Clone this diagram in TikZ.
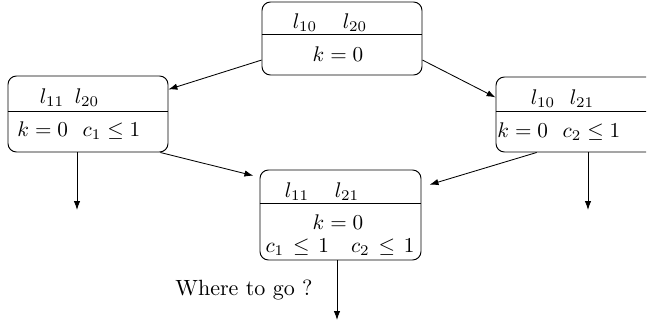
\documentclass[tikz,border=0pt]{standalone}
\usetikzlibrary{fit,arrows.meta}
\begin{document}
\begin{tikzpicture}[x=0.4717pt,y=-0.4717pt,
  box/.style={draw,rounded corners=4pt,inner sep=0pt,line width=0.45pt},
  lab/.style={inner sep=0pt,anchor=base,font=\fontsize{10.4pt}{12pt}\selectfont},
  conn/.style={-{Latex[length=4.2pt,width=3pt]},line width=0.4pt},
  divider/.style={line width=0.45pt}]
\useasboundingbox (0,0) rectangle (648,326);
\clip (0,0) rectangle (646,326);
% boxes
\node[box,fit={(262,2) (422,75)}] (top) {};
\node[box,fit={(8,76) (168,152)}] (left) {};
\node[box,fit={(496,77) (656,152)}] (right) {};
\node[box,fit={(260,170) (421,260)}] (mid) {};
% dividers
\draw[divider] (top.west |- 0,34) -- (top.east |- 0,34);
\draw[divider] (left.west |- 0,111) -- (left.east |- 0,111);
\draw[divider] (right.west |- 0,111) -- (right.east |- 0,111);
\draw[divider] (mid.west |- 0,203) -- (mid.east |- 0,203);
% texts
\node[lab] (t1) at (305,28) {$l_{10}$};
\node[lab] (t2) at (355,28) {$l_{20}$};
\node[lab] (t3) at (338,61) {$k=0$};
\node[lab] (l1) at (52,103) {$l_{11}$};
\node[lab] (l2) at (87,103) {$l_{20}$};
\node[lab,anchor=base west] (l3) at (17,136) {$k=0\ \ c_1\leq 1$};
\node[lab] (r1) at (543,104) {$l_{10}$};
\node[lab] (r2) at (582,104) {$l_{21}$};
\node[lab,anchor=base west] (r3) at (497,137) {$k=0\ \ c_2\leq 1$};
\node[lab] (m1) at (297,197) {$l_{11}$};
\node[lab] (m2) at (347,197) {$l_{21}$};
\node[lab] (m3) at (338,229) {$k=0$};
\node[lab] (m4) at (340,252) {$c_1\mskip2.5mu\leq\mskip2.5mu 1\quad c_2\mskip2.5mu\leq\mskip2.5mu 1$};
\node[lab] (q) at (244,295) {Where to go ?};
% connectors
\draw[conn] (top.195) -- (left.17);
\draw[conn] (top.-15) -- (right.168);
\draw[conn,shorten >=3pt] (left.-28) -- (mid.155);
\draw[conn,shorten >=4pt] (right.224) -- (mid.19);
\coordinate (lend) at (77,210);
\coordinate (rend) at (588,210);
\coordinate (mend) at (337,320);
\draw[conn] (left.south -| lend) -- (lend);
\draw[conn] (right.south -| rend) -- (rend);
\draw[conn] (mid.south -| mend) -- (mend);
\end{tikzpicture}
\end{document}
